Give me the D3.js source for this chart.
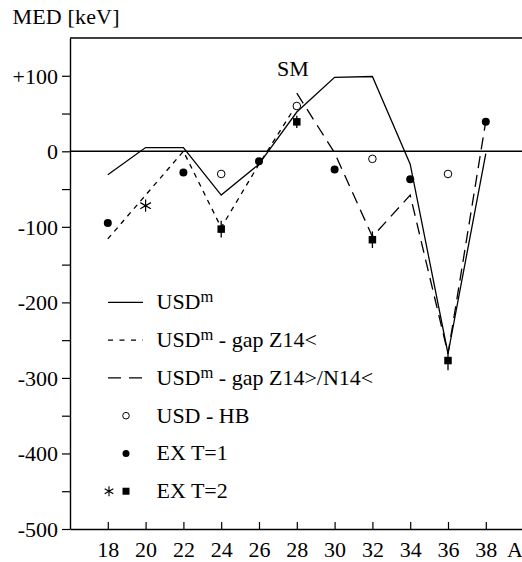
<!DOCTYPE html>
<html>
<head>
<meta charset="utf-8">
<script src="https://cdn.jsdelivr.net/npm/d3@7"></script>
<style>
  html, body { margin: 0; padding: 0; background: #fff; }
  svg { display: block; }
  text { font-family: "Liberation Serif", "Times New Roman", "DejaVu Serif", serif; fill: #000; }
</style>
</head>
<body>
<svg id="chart" width="522" height="562"></svg>
<script>
// ---- data ----
const yTickValues = [-500, -450, -400, -350, -300, -250, -200, -150, -100, -50, 0, 50, 100];
const yTickLabels = ["-500", "", "-400", "", "-300", "", "-200", "", "-100", "", "0", "", "+100"];
const xTickValues = [18, 20, 22, 24, 26, 28, 30, 32, 34, 36, 38];
const xTickLabels = ["18", "20", "22", "24", "26", "28", "30", "32", "34", "36", "38"];

// USD^m (solid)
const usdmA = [18, 20, 22, 24, 26, 28, 30, 32, 34, 36, 38];
const usdmV = [-31, 5, 5, -58, -17, 52, 98, 99, -17, -268, -3];
// USD^m - gap Z14< (short dashes)
const gapZA = [18, 20, 22, 24, 26, 28];
const gapZV = [-116, -58, 0, -101, -17, 62];
// USD^m - gap Z14>/N14< (long dashes)
const gapZNA = [28, 30, 32, 34, 36, 38];
const gapZNV = [77, -2, -113, -58, -268, 40];
// USD - HB (open circles)
const hbA = [24, 28, 32, 36];
const hbV = [-30, 60, -10, -30];
// EX T=1 (filled circles)
const ex1A = [18, 22, 26, 30, 34, 38];
const ex1V = [-95, -28, -13, -24, -37, 39];
// EX T=2 (filled squares with error bars)
const ex2A = [24, 28, 32, 36];
const ex2V = [-103, 39, -117, -277];
const ex2Err = [11, 8, 11, 13];
// EX T=2 (asterisk)
const ex2StarA = [20];
const ex2StarV = [-72];

const legendLabels = [
  { main: "USD", sup: "m", rest: "" },
  { main: "USD", sup: "m", rest: " - gap Z14<" },
  { main: "USD", sup: "m", rest: " - gap Z14>/N14<" },
  { main: "USD - HB", sup: "", rest: "" },
  { main: "EX T=1", sup: "", rest: "" },
  { main: "EX T=2", sup: "", rest: "" }
];

// ---- layout ----
const svg = d3.select("#chart");
const mLeft = 70, mTop = 38, mBottom = 529, mRight = 522;
const x = d3.scaleLinear().domain([16, 40]).range([mLeft, 523.6]);
const y = d3.scaleLinear().domain([-500, 150]).range([mBottom, mTop]);
const FS = 22;
const FF = '"Liberation Serif", "Times New Roman", serif';

// frame top
svg.append("line").attr("x1", mLeft).attr("x2", mRight).attr("y1", mTop).attr("y2", mTop)
  .attr("stroke", "#000").attr("stroke-width", 1.4);
// zero line
svg.append("line").attr("x1", mLeft).attr("x2", mRight).attr("y1", y(0)).attr("y2", y(0))
  .attr("stroke", "#000").attr("stroke-width", 1.4);

// left axis
const yAxis = d3.axisLeft(y).tickValues(yTickValues).tickSizeInner(8).tickSizeOuter(0)
  .tickPadding(4).tickFormat((d, i) => yTickLabels[i]);
const gy = svg.append("g").attr("transform", `translate(${mLeft},0)`).call(yAxis);
gy.attr("font-family", FF).attr("font-size", FS);
gy.select(".domain").attr("stroke-width", 1.4);
gy.selectAll(".tick line").attr("stroke-width", 1.2);
gy.selectAll("text").attr("dy", null).attr("y", 7.5);

// bottom axis (ticks inward)
const xAxis = d3.axisBottom(x).tickValues(xTickValues).tickSizeInner(-7).tickSizeOuter(0)
  .tickFormat((d, i) => xTickLabels[i]);
const gx = svg.append("g").attr("transform", `translate(0,${mBottom})`).call(xAxis);
gx.attr("font-family", FF).attr("font-size", FS);
gx.select(".domain").attr("stroke-width", 1.4);
gx.selectAll(".tick line").attr("stroke-width", 1.2);
gx.selectAll("text").attr("dy", null).attr("y", 27.5);
svg.selectAll(".domain, .tick line").attr("stroke", "#000");

// axis labels
svg.append("text").attr("x", 507).attr("y", 556.5).attr("font-family", FF).attr("font-size", FS).text("A");
svg.append("text").attr("x", 12.5).attr("y", 24).attr("font-family", FF).attr("font-size", FS)
  .attr("textLength", 107).attr("lengthAdjust", "spacing").text("MED [keV]");
svg.append("text").attr("x", 277).attr("y", 76).attr("font-family", FF).attr("font-size", FS).text("SM");

// lines
const line = d3.line().x(d => x(d[0])).y(d => y(d[1]));
const lw = 1.3;
svg.append("path").datum(d3.zip(usdmA, usdmV)).attr("d", line)
  .attr("fill", "none").attr("stroke", "#000").attr("stroke-width", lw);
svg.append("path").datum(d3.zip(gapZA, gapZV)).attr("d", line)
  .attr("fill", "none").attr("stroke", "#000").attr("stroke-width", lw)
  .attr("stroke-dasharray", "5,5");
svg.append("path").datum(d3.zip(gapZNA, gapZNV)).attr("d", line)
  .attr("fill", "none").attr("stroke", "#000").attr("stroke-width", lw)
  .attr("stroke-dasharray", "12,7");

// error bars
svg.append("g").selectAll("line").data(d3.range(ex2A.length)).join("line")
  .attr("x1", i => x(ex2A[i])).attr("x2", i => x(ex2A[i]))
  .attr("y1", i => y(ex2V[i] + ex2Err[i])).attr("y2", i => y(ex2V[i] - ex2Err[i]))
  .attr("stroke", "#000").attr("stroke-width", 1.3);

// open circles
svg.append("g").selectAll("circle").data(d3.zip(hbA, hbV)).join("circle")
  .attr("cx", d => x(d[0])).attr("cy", d => y(d[1])).attr("r", 3.8)
  .attr("fill", "#fff").attr("stroke", "#000").attr("stroke-width", 1);
// filled circles
svg.append("g").selectAll("circle").data(d3.zip(ex1A, ex1V)).join("circle")
  .attr("cx", d => x(d[0])).attr("cy", d => y(d[1])).attr("r", 4)
  .attr("fill", "#000");
// squares
const sq = 7.5;
svg.append("g").selectAll("rect").data(d3.zip(ex2A, ex2V)).join("rect")
  .attr("x", d => x(d[0]) - sq / 2).attr("y", d => y(d[1]) - sq / 2)
  .attr("width", sq).attr("height", sq).attr("fill", "#000");
// asterisk
const star = d3.symbol().type(d3.symbolAsterisk).size(105);
svg.append("g").selectAll("path").data(d3.zip(ex2StarA, ex2StarV)).join("path")
  .attr("transform", d => `translate(${x(d[0])},${y(d[1])})`)
  .attr("d", star).attr("fill", "none").attr("stroke", "#000").attr("stroke-width", 1.2);

// legend (rows sit on the -200 ... -450 grid)
const legRows = [-200, -250, -300, -350, -400, -450];
const lg = svg.append("g");
const lx1 = 108, lx2 = 143, mx = 126, tx = 156.5;
legRows.forEach((v, i) => {
  const yy = y(v);
  if (i === 0) lg.append("line").attr("x1", lx1).attr("x2", lx2).attr("y1", yy).attr("y2", yy)
      .attr("stroke", "#000").attr("stroke-width", lw);
  if (i === 1) lg.append("line").attr("x1", lx1).attr("x2", lx2).attr("y1", yy).attr("y2", yy)
      .attr("stroke", "#000").attr("stroke-width", lw).attr("stroke-dasharray", "5,6.5");
  if (i === 2) lg.append("line").attr("x1", lx1).attr("x2", lx2).attr("y1", yy).attr("y2", yy)
      .attr("stroke", "#000").attr("stroke-width", lw).attr("stroke-dasharray", "13,8");
  if (i === 3) lg.append("circle").attr("cx", mx).attr("cy", yy).attr("r", 3.3)
      .attr("fill", "#fff").attr("stroke", "#000").attr("stroke-width", 1);
  if (i === 4) lg.append("circle").attr("cx", mx).attr("cy", yy).attr("r", 3.5).attr("fill", "#000");
  if (i === 5) {
    lg.append("rect").attr("x", mx - 3.5).attr("y", yy - 3.5).attr("width", 7).attr("height", 7).attr("fill", "#000");
    lg.append("path").attr("transform", `translate(109,${yy})`)
      .attr("d", d3.symbol().type(d3.symbolAsterisk).size(70))
      .attr("fill", "none").attr("stroke", "#000").attr("stroke-width", 1.1);
  }
  const t = lg.append("text").attr("x", tx).attr("y", yy + 7)
    .attr("font-family", FF).attr("font-size", FS);
  const L = legendLabels[i];
  t.append("tspan").text(L.main);
  if (L.sup) {
    t.append("tspan").text(L.sup).attr("font-size", 16.5).attr("dy", -7);
    if (L.rest) t.append("tspan").text(L.rest).attr("dy", 7);
  }
});
</script>
</body>
</html>
